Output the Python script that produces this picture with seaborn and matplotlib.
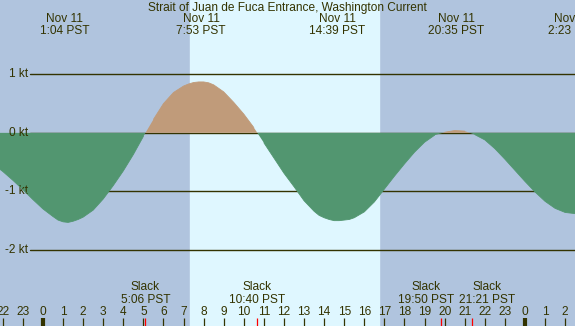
import numpy as np
import pandas as pd
import matplotlib
matplotlib.use('Agg')
import matplotlib.pyplot as plt
import seaborn as sns

# current readings, hours after midnight Nov 11 (PST) and knots (+ flood / - ebb)
hours = [-2.5, -2.0, -1.5, -1.0, -0.5, 0.0, 0.5, 0.75, 1.0, 1.25, 1.5, 1.75, 2.0,
         2.5, 3.0, 3.5, 4.0, 4.5, 5.0, 5.5, 6.0, 6.5, 7.0, 7.25, 7.5, 7.75, 8.0,
         8.25, 8.5, 9.0, 9.5, 10.0, 10.5, 11.0, 11.5, 12.0, 12.5, 13.0, 13.5,
         13.75, 14.0, 14.25, 14.5, 14.75, 15.0, 15.25, 15.5, 16.0, 16.5, 17.0,
         17.5, 18.0, 18.5, 19.0, 19.5, 20.0, 20.5, 21.0, 21.5, 22.0, 22.5, 23.0,
         23.5, 24.0, 24.5, 25.0, 25.5, 26.0, 26.5, 27.0]
knots = [-0.53, -0.66, -0.81, -0.97, -1.14, -1.30, -1.43, -1.49, -1.52, -1.53,
         -1.51, -1.48, -1.44, -1.32, -1.13, -0.90, -0.65, -0.37, -0.06, 0.23,
         0.50, 0.69, 0.80, 0.835, 0.86, 0.87, 0.87, 0.855, 0.82, 0.70, 0.52,
         0.32, 0.09, -0.17, -0.43, -0.69, -0.92, -1.16, -1.34, -1.41, -1.45,
         -1.48, -1.50, -1.50, -1.49, -1.48, -1.45, -1.35, -1.18, -0.96, -0.74,
         -0.53, -0.33, -0.16, -0.04, 0.01, 0.04, 0.03, -0.03, -0.12, -0.27,
         -0.45, -0.64, -0.83, -1.01, -1.17, -1.29, -1.36, -1.38, -1.37]

# max current events (top labels)
peak_hours = [1.07, 7.88, 14.65, 20.58, 26.38]
peak_labels = ['1:04 PST', '7:53 PST', '14:39 PST', '20:35 PST', '2:23 PST']
peak_dates = ['Nov 11', 'Nov 11', 'Nov 11', 'Nov 11', 'Nov 12']

# slack events (bottom labels)
slack_hours = [5.10, 10.67, 19.83, 21.35]
slack_labels = ['5:06 PST', '10:40 PST', '19:50 PST', '21:21 PST']

sunrise, sunset = 7.32, 16.73
hour_ticks = list(range(-2, 27))
kt_levels = [1, 0, -1, -2]

title = 'Strait of Juan de Fuca Entrance, Washington Current'

night = '#b0c4de'
day = '#dff7ff'
ebb_col = '#529670'
flood_col = '#c09b7a'
ink = '#333300'

sns.set_style('white')
plt.rcParams['font.family'] = ['Liberation Sans', 'DejaVu Sans']
plt.rcParams['font.size'] = 8.6

df = pd.DataFrame({'hour': hours, 'kt': knots})
df['side'] = np.where(df['kt'] >= 0, 'flood', 'ebb')
df['run'] = (df['side'] != df['side'].shift()).cumsum()

fig = plt.figure(figsize=(5.75, 3.26), dpi=100)
ax = fig.add_axes([0, 0, 1, 1])

ax.axvspan(-5, 30, color=night, zorder=0)
ax.axvspan(sunrise, sunset, color=day, zorder=0)

for lv in kt_levels:
    ax.axhline(lv, xmin=30 / 575, xmax=1, color=ink, lw=1.0, zorder=1)
    ax.text(28 / 575, lv, f'{lv} kt', transform=ax.get_yaxis_transform(),
            ha='right', va='center', color=ink)

x = df['hour'].to_numpy()
y = df['kt'].to_numpy()
ax.fill_between(x, 0, y, where=y <= 0, interpolate=True, color=ebb_col, lw=0, zorder=2)
ax.fill_between(x, 0, y, where=y >= 0, interpolate=True, color=flood_col, lw=0, zorder=2)
sns.lineplot(data=df, x='hour', y='kt', hue='side', units='run', estimator=None,
             palette={'ebb': ebb_col, 'flood': flood_col}, lw=0.6, legend=False,
             ax=ax, zorder=3)
ax.set_xlim(-2.14, 26.49)
ax.set_ylim(-3.30, 2.27)
ax.set_axis_off()

trans = ax.get_xaxis_transform()

# title and max-current labels
ax.text(0.5, 1 - 7.8 / 326, title, transform=ax.transAxes, ha='center', va='center', color=ink)
for h, d, t in zip(peak_hours, peak_dates, peak_labels):
    ax.text(h, 1 - 19.5 / 326, d, transform=trans, ha='center', va='center', color=ink)
    ax.text(h, 1 - 31.5 / 326, t, transform=trans, ha='center', va='center', color=ink)

# slack labels, pushed apart when they would overlap
label_w = 3.0
pos = list(slack_hours)
for i in range(1, len(pos)):
    if pos[i] - pos[i - 1] < label_w:
        mid = (pos[i] + pos[i - 1]) / 2
        pos[i - 1], pos[i] = mid - label_w / 2, mid + label_w / 2
for p, t in zip(pos, slack_labels):
    ax.text(p, (326 - 287) / 326, 'Slack', transform=trans, ha='center', va='center', color=ink)
    ax.text(p, (326 - 300) / 326, t, transform=trans, ha='center', va='center', color=ink)

# hour ticks
tick_top = 8 / 326
for h in hour_ticks:
    midnight = h % 24 == 0
    ax.plot([h, h], [0, tick_top], transform=trans, color=ink,
            lw=3.0 if midnight else 0.9, solid_capstyle='butt', zorder=4)
    ax.text(h, (326 - 311.7) / 326, str(h % 24), transform=trans,
            ha='center', va='center', color=ink)
for h in slack_hours:
    ax.plot([h, h], [0, tick_top], transform=trans, color='red', lw=0.9,
            solid_capstyle='butt', zorder=4)

fig.savefig('out.png', dpi=100)
